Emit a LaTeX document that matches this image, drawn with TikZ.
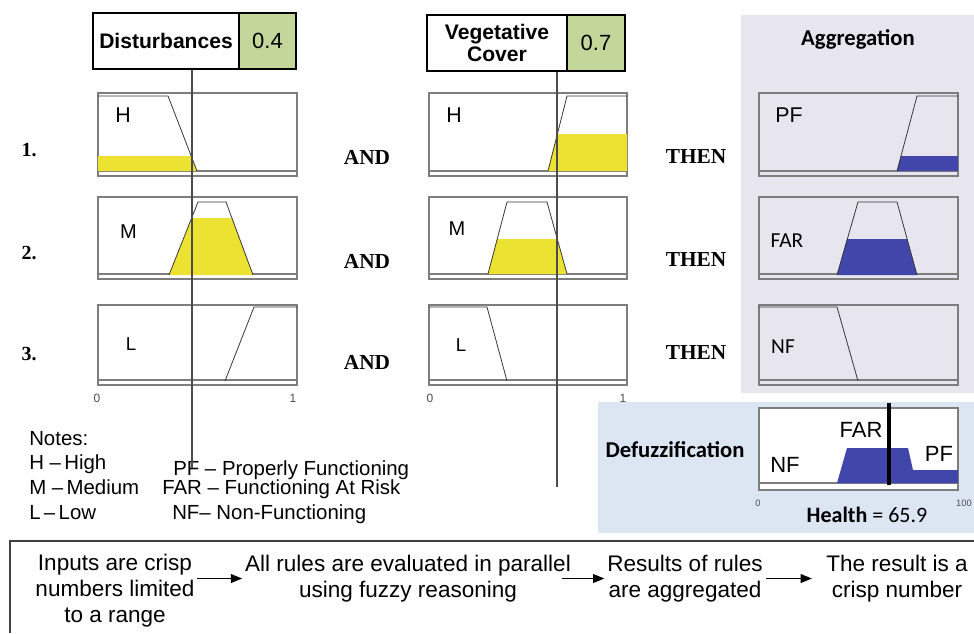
\documentclass[tikz,border=0pt]{standalone}
\usepackage{fontspec}
\setmainfont{Liberation Sans}
\newfontfamily\timesfont{Liberation Serif}
\newfontfamily\calfont{Carlito}
\usepackage{tikz}
\usetikzlibrary{arrows.meta}

\definecolor{valgreen}{RGB}{196,215,155}
\definecolor{agggray}{RGB}{231,229,237}
\definecolor{defuzzblue}{RGB}{220,230,242}
\definecolor{ruleyellow}{RGB}{236,226,50}
\definecolor{ruleblue}{RGB}{64,70,170}
\definecolor{framegray}{RGB}{125,125,125}
\definecolor{curvegray}{RGB}{55,55,55}

\tikzset{
  namebox/.style={draw=black, line width=0.9pt, fill=white, minimum height=42pt,
    inner sep=0pt, align=center, font=\fontsize{15.8pt}{17pt}\selectfont\bfseries},
  valbox/.style={draw=black, line width=0.9pt, fill=valgreen, minimum height=42pt,
    inner sep=0pt, font=\fontsize{16.5pt}{19pt}\selectfont},
  mfframe/.style={draw=framegray, line width=0.8pt},
  mfcurve/.style={draw=curvegray, line width=0.6pt},
  inputline/.style={draw=black!70, line width=1pt},
  rownum/.style={inner sep=0pt, font=\timesfont\fontsize{15pt}{18pt}\selectfont\bfseries},
  logic/.style={inner sep=0pt, font=\timesfont\fontsize{16pt}{19pt}\selectfont\bfseries},
  setlabel/.style={inner sep=0pt, font=\fontsize{#1}{#1}\selectfont},
  callabel/.style={inner sep=0pt, font=\calfont\fontsize{#1}{#1}\selectfont},
  panelhead/.style={inner sep=0pt, font=\calfont\fontsize{17pt}{19pt}\selectfont\bfseries},
  ticklabel/.style={inner sep=0pt, text=black!70, font=\fontsize{#1}{#1}\selectfont},
  notetext/.style={anchor=base west, inner sep=0pt, font=\fontsize{15.3pt}{18pt}\selectfont},
  flowtext/.style={align=center, inner sep=2pt, font=\fontsize{16.9pt}{19.5pt}\selectfont},
  flowarrow/.style={-{Triangle[length=8.5pt,width=6.5pt]}, line width=1.3pt}
}

\begin{document}
\begin{tikzpicture}[x=0.75pt, y=-0.75pt]
  \useasboundingbox (0,0) rectangle (974,633);

  % Draw background panels
  \fill[agggray] (741,15) rectangle (974,393);
  \fill[defuzzblue] (598,402) rectangle (974,533);

  % Draw input boxes
  \node[namebox, minimum width=109.5pt] (dist) at (166,41) {Disturbances};
  \node[valbox, minimum width=42.75pt] (distval) at (267.5,41) {0.4};
  \node[namebox, minimum width=105pt] (veg) at (497,43) {Vegetative\\Cover};
  \node[valbox, minimum width=43.5pt] (vegval) at (596,43) {0.7};

  % Draw membership function frames
  \foreach \xl/\xr in {98/297, 429/627, 759/958}
    \foreach \yt/\yb in {93/176, 197/279, 305/385} {
      \draw[mfframe] (\xl,\yt) rectangle (\xr,\yb);
      \draw[mfframe] (\xl,\yb-5) -- (\xr,\yb-5);
    }

  % Draw fired areas
  \fill[ruleyellow] (98,156) -- (191,156) -- (197,171) -- (98,171) -- cycle;
  \fill[ruleyellow] (169,275) -- (192,218) -- (232,218) -- (253,275) -- cycle;
  \fill[ruleyellow] (548,171) -- (557,134) -- (627,134) -- (627,171) -- cycle;
  \fill[ruleyellow] (488,274) -- (497,239) -- (557,239) -- (567,274) -- cycle;
  \fill[ruleblue] (897,171) -- (901,156) -- (958,156) -- (958,171) -- cycle;
  \fill[ruleblue] (837,275) -- (847,239) -- (907,239) -- (917,275) -- cycle;

  % Draw membership functions
  \draw[mfcurve] (98,96) -- (168,96) -- (197,171);
  \draw[mfcurve] (169,275) -- (198,202) -- (226,202) -- (253,275);
  \draw[mfcurve] (225,381) -- (254,307) -- (297,307);
  \draw[mfcurve] (548,171) -- (567,96) -- (627,96);
  \draw[mfcurve] (488,274) -- (507,202) -- (547,202) -- (567,274);
  \draw[mfcurve] (429,307) -- (487,307) -- (507,381);
  \draw[mfcurve] (897,171) -- (917,96) -- (958,96);
  \draw[mfcurve] (837,275) -- (858,202) -- (897,202) -- (917,275);
  \draw[mfcurve] (759,307) -- (837,307) -- (858,381);

  % Set labels
  \node[setlabel=16pt] (distH) at (123,115) {H};
  \node[setlabel=15pt] (distM) at (128.5,232) {M};
  \node[setlabel=14pt] (distL) at (131,344) {L};
  \node[setlabel=16pt] (vegH) at (454,115) {H};
  \node[setlabel=15pt] (vegM) at (457,229) {M};
  \node[setlabel=14pt] (vegL) at (461,345) {L};
  \node[setlabel=16pt] (aggPF) at (789,115) {PF};
  \node[callabel=16pt] (aggFAR) at (787,241) {FAR};
  \node[callabel=16pt] (aggNF) at (783,347) {NF};

  % Axis ticks
  \node[ticklabel=9pt] (dist0) at (97,398) {0};
  \node[ticklabel=9pt] (dist1) at (293,398) {1};
  \node[ticklabel=9pt] (veg0) at (430,398) {0};
  \node[ticklabel=9pt] (veg1) at (623,398) {1};

  % Rule numbers and connectives
  \foreach \n/\y in {1/150, 2/253, 3/354}
    \node[rownum] (row\n) at (29,\y) {\n.};
  \foreach \n/\y in {1/157, 2/261, 3/362}
    \node[logic] (and\n) at (367,\y) {AND};
  \foreach \n/\y in {1/157, 2/260, 3/353}
    \node[logic] (then\n) at (696,\y) {THEN};

  % Aggregation and defuzzification
  \node[panelhead, anchor=base] (aggtitle) at (858,45) {Aggregation};
  \node[panelhead, anchor=base] (defuzztitle) at (675,457) {Defuzzification};
  \draw[mfframe, fill=white] (759,408) rectangle (958,490);
  \draw[mfframe] (759,483) -- (958,483);
  \fill[ruleblue] (837,483) -- (847,448) -- (908,448) -- (913,470) -- (958,470) -- (958,483) -- cycle;
  \coordinate (cogtop) at (889,403);
  \coordinate (cogbot) at (889,485);
  \draw[line width=3pt] (cogtop) -- (cogbot);
  \node[setlabel=16.5pt, anchor=base] (defFAR) at (861,437) {FAR};
  \node[setlabel=16.5pt, anchor=base] (defPF) at (939,461) {PF};
  \node[setlabel=16.5pt, anchor=base] (defNF) at (785,472) {NF};
  \node[ticklabel=7pt] (def0) at (758,503) {0};
  \node[ticklabel=7pt] (def100) at (964,503) {100};
  \node[callabel=16.5pt, anchor=base] (health) at (867,522) {\textbf{Health} = 65.9};

  % Notes
  \node[notetext] (notes) at (29,445) {Notes:};
  \node[notetext] (noteH) at (29,469) {H~–\,High};
  \node[notetext] (noteM) at (29,494) {M~–\,Medium};
  \node[notetext] (noteL) at (29,519) {L\,–\,Low};
  \node[notetext] (notePF) at (173,475) {PF – Properly Functioning};
  \node[notetext] (noteFAR) at (162,494) {FAR – Functioning At Risk};
  \node[notetext] (noteNF) at (172,519) {NF– Non-Functioning};

  % Draw crisp inputs
  \coordinate (distend) at (192,468);
  \coordinate (vegend) at (557,487);
  \draw[inputline] (dist.south -| distend) -- (distend);
  \draw[inputline] (veg.south -| vegend) -- (vegend);

  % Bottom flow
  \draw[draw=black!75, line width=1.2pt] (974,541) -- (10,541) -- (10,633);
  \node[flowtext] (step1) at (115,591) {Inputs are crisp\\numbers limited\\to a range};
  \node[flowtext] (step2) at (408,578.5) {All rules are evaluated in parallel\\using fuzzy reasoning};
  \node[flowtext] (step3) at (685,578.5) {Results of rules\\are aggregated};
  \node[flowtext] (step4) at (897,578.5) {The result is a\\crisp number};
  \draw[flowarrow] (step1.east |- step2.west) -- (step2.west);
  \draw[flowarrow, shorten <=-8.5pt] (step2.east) -- (step3.west);
  \draw[flowarrow, shorten >=8.5pt] (step3.east) -- (step4.west);
\end{tikzpicture}
\end{document}
